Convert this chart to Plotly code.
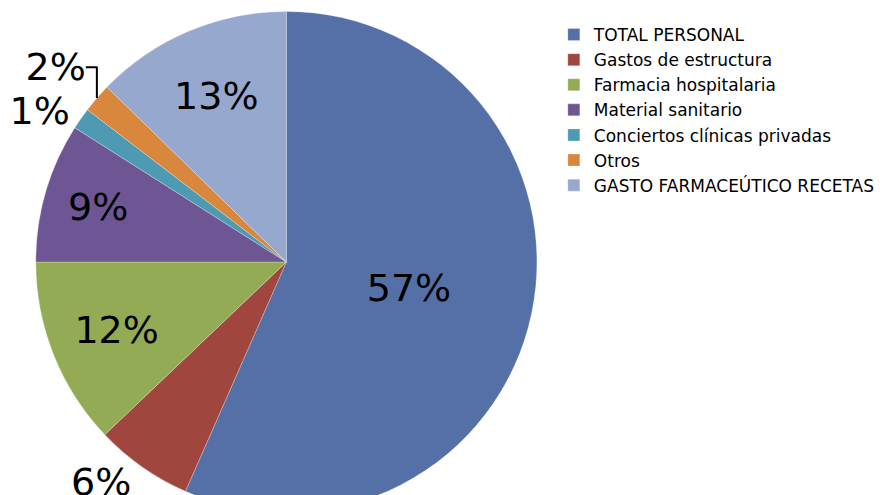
import plotly.graph_objects as go

categories = ["TOTAL PERSONAL", "Gastos de estructura", "Farmacia hospitalaria",
              "Material sanitario", "Conciertos clínicas privadas", "Otros",
              "GASTO FARMACEÚTICO RECETAS"]
values = [56.6, 6.3, 12.1, 9.0, 1.4, 1.9, 12.7]
colors = ["#5470A6", "#A0463F", "#93AB55", "#6E5694", "#4E9AB3", "#D9873D", "#97A8CE"]
text_positions = ["inside", "outside", "inside", "inside", "outside", "outside", "inside"]

W, H = 880, 524
cx, cy, r = 288, 262, 252

fig = go.Figure(go.Pie(
    labels=categories,
    values=values,
    sort=False,
    direction="clockwise",
    rotation=0,
    marker=dict(colors=colors, line=dict(color="rgba(255,255,255,0.5)", width=0.5)),
    texttemplate="%{percent:.0%}",
    textposition=text_positions,
    insidetextorientation="horizontal",
    textfont=dict(family="DejaVu Sans", size=38, color="#000000"),
    outsidetextfont=dict(family="DejaVu Sans", size=38, color="#000000"),
    insidetextfont=dict(family="DejaVu Sans", size=38, color="#000000"),
    automargin=False,
    domain=dict(x=[(cx - r) / W, (cx + r) / W], y=[(H - cy - r) / H, (H - cy + r) / H]),
    hoverinfo="label+percent",
))

fig.update_layout(
    width=W, height=H,
    margin=dict(l=0, r=0, t=0, b=0),
    paper_bgcolor="white",
    plot_bgcolor="white",
    showlegend=True,
    legend=dict(
        x=557 / W, y=1 - 17 / H, xanchor="left", yanchor="top",
        font=dict(family="DejaVu Sans", size=17, color="#000000"),
        bgcolor="rgba(0,0,0,0)", itemwidth=30,
    ),
)

fig.write_html(
    "out.html",
    config={"displayModeBar": False},
    post_script="document.documentElement.style.overflow='hidden';document.body.style.overflow='hidden';document.body.style.margin='0';",
)
